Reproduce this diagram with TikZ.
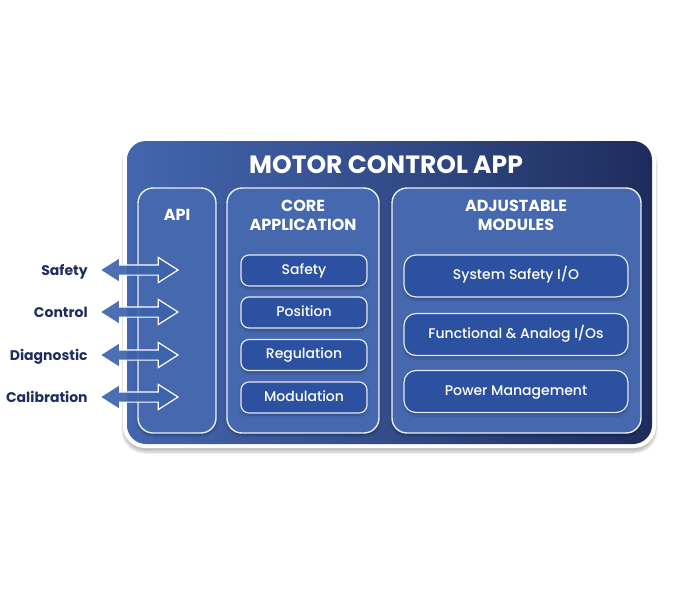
\documentclass[tikz,border=0pt]{standalone}
\usepackage{fontspec}
\setmainfont{Poppins}
\newfontfamily\popmed{Poppins Medium}
\usetikzlibrary{positioning,shapes.arrows,shadows.blur}

\definecolor{navy}{HTML}{1F2D5E}
\definecolor{appleft}{HTML}{4366AE}
\definecolor{appright}{HTML}{1E2C5C}
\definecolor{panelblue}{HTML}{4668AF}
\definecolor{itemblue}{HTML}{2C51A0}
\definecolor{arrowblue}{HTML}{3E63AD}

\tikzset{
  panel/.style={draw=white!90!panelblue, line width=1.4pt, fill=panelblue, rounded corners=15pt,
    blur shadow={shadow xshift=0pt, shadow yshift=-2pt, shadow opacity=35, shadow blur steps=6}},
  item/.style={draw=white!88!itemblue, line width=1.2pt, fill=itemblue, text=white,
    text height=9.8pt, text depth=2pt, font=\popmed\fontsize{14}{16}\selectfont,
    blur shadow={shadow xshift=0pt, shadow yshift=-2pt, shadow opacity=30, shadow blur steps=4}},
  paneltitle/.style={text=white, align=center, font=\bfseries\fontsize{16}{19}\selectfont},
  linkarrow/.style={double arrow, draw=white, line width=1.2pt, fill=arrowblue, fill opacity=0.92,
    minimum height=78pt, inner xsep=0pt, inner ysep=4.5pt,
    double arrow head extend=7.5pt, double arrow head indent=0pt, double arrow tip angle=65},
  sidelabel/.style={text=navy, inner sep=0pt, text height=10pt, text depth=0pt,
    font=\bfseries\fontsize{14}{16}\selectfont}
}

\begin{document}
\begin{tikzpicture}[x=1pt,y=-1pt]

  \useasboundingbox (0,0) rectangle (690,603);

  % frame
  \node[fill=white, rounded corners=22pt, minimum width=533pt, minimum height=311pt,
    blur shadow={shadow xshift=0pt, shadow yshift=-4pt, shadow opacity=25, shadow blur steps=10}]
    (frame) at (389.5,292.5) {};
  \node[left color=appleft, right color=appright, middle color=appright!45!appleft,
    rounded corners=19pt, minimum width=525pt, minimum height=303pt] (app) at (389.5,292.5) {};
  \node[text=white, font=\bfseries\fontsize{25}{28}\selectfont] (apptitle) at (386,165) {MOTOR CONTROL APP};

  % panels
  \node[panel, minimum width=78pt, minimum height=245pt] (api) at (177,310.5) {};
  \node[panel, minimum width=152pt, minimum height=245pt] (core) at (303,310.5) {};
  \node[panel, minimum width=249pt, minimum height=245pt] (adj) at (516.5,310.5) {};

  \node[paneltitle] (apititle) at (177,215) {API};
  \node[paneltitle] (coretitle) at (303,215.5) {CORE\\APPLICATION};
  \node[paneltitle] (adjtitle) at (516,215.5) {ADJUSTABLE\\MODULES};

  % core items
  \node[item, rounded corners=8pt, minimum width=126pt, minimum height=31pt] (safety) at (304,270.5) {Safety};
  \node[item, rounded corners=8pt, minimum width=126pt, minimum height=31pt] (position) at (304,312.5) {Position};
  \node[item, rounded corners=8pt, minimum width=126pt, minimum height=31pt] (regulation) at (304,355) {Regulation};
  \node[item, rounded corners=8pt, minimum width=126pt, minimum height=31pt] (modulation) at (304,397.5) {Modulation};

  % adjustable items
  \node[item, rounded corners=12pt, minimum width=224pt, minimum height=42pt] (sysio) at (516,276) {System Safety I/O};
  \node[item, rounded corners=12pt, minimum width=224pt, minimum height=42pt] (funcio) at (516,334.5) {Functional \& Analog I/Os};
  \node[item, rounded corners=12pt, minimum width=224pt, minimum height=42pt] (power) at (516,391.5) {Power Management};

  % interfaces
  \node[linkarrow] (arrsafety) at (139,270) {};
  \node[linkarrow] (arrcontrol) at (139,312) {};
  \node[linkarrow] (arrdiag) at (139,355) {};
  \node[linkarrow] (arrcalib) at (139,397) {};

  \node[sidelabel, left=11pt of arrsafety.west] (lblsafety) {Safety};
  \node[sidelabel, left=11pt of arrcontrol.west] (lblcontrol) {Control};
  \node[sidelabel, left=11pt of arrdiag.west] (lbldiag) {Diagnostic};
  \node[sidelabel, left=11pt of arrcalib.west] (lblcalib) {Calibration};

\end{tikzpicture}
\end{document}
